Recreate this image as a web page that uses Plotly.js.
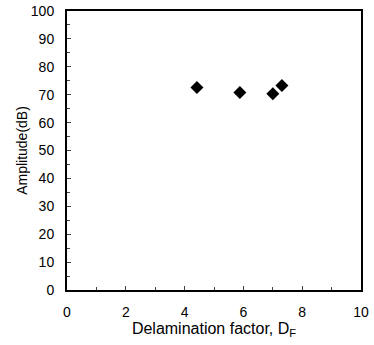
<!DOCTYPE html>
<html><head><meta charset="utf-8">
<script src="https://cdn.plot.ly/plotly-3.0.1.min.js"></script>
<style>body{margin:0;background:#fff}#c{width:374px;height:345px}</style>
</head><body><div id="c"></div>
<script>
const delaminationFactor = [4.42, 5.88, 7.0, 7.31];
const amplitude = [72.6, 70.8, 70.3, 73.3];

const font = {family: 'Liberation Sans, Arial, sans-serif', size: 14, color: '#000'};
Plotly.newPlot('c', [{
  x: delaminationFactor, y: amplitude, type: 'scatter', mode: 'markers',
  marker: {symbol: 'diamond', size: 10, color: '#000'}
}], {
  width: 374, height: 345,
  margin: {l: 67, r: 13, t: 11, b: 55},
  paper_bgcolor: '#fff', plot_bgcolor: '#fff',
  font: font, showlegend: false,
  xaxis: {range: [0, 10], dtick: 2, ticks: 'inside', ticklen: 4, tickwidth: 1,
    minor: {dtick: 1, ticks: 'inside', ticklen: 3, tickwidth: 1, showgrid: false},
    showline: true, linewidth: 2, linecolor: '#000', mirror: true, showgrid: false, zeroline: false,
    tickfont: font, ticklabelstandoff: 8,
    title: {text: 'Delamination factor, D<sub>F</sub>', font: {family: font.family, size: 16, color: '#000'}, standoff: 4}},
  yaxis: {range: [0, 100], dtick: 10, ticks: 'inside', ticklen: 4, tickwidth: 1,
    minor: {dtick: 5, ticks: 'inside', ticklen: 3, tickwidth: 1, showgrid: false},
    showline: true, linewidth: 2, linecolor: '#000', mirror: true, showgrid: false, zeroline: false,
    tickfont: font, ticklabelstandoff: 8,
    title: {text: 'Amplitude(dB)', font: {family: font.family, size: 14, color: '#000'}, standoff: 0}}
}, {displayModeBar: false, staticPlot: true});
</script></body></html>
